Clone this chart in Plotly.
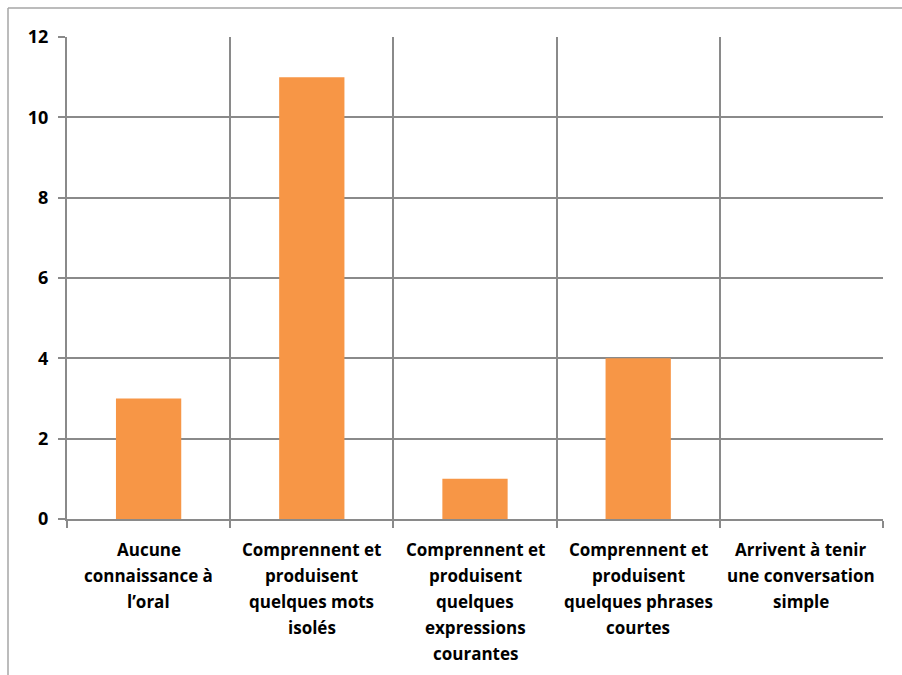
import plotly.graph_objects as go

categories = [
    ["Aucune", "connaissance à", "l’oral"],
    ["Comprennent et", "produisent", "quelques mots", "isolés"],
    ["Comprennent et", "produisent", "quelques", "expressions", "courantes"],
    ["Comprennent et", "produisent", "quelques phrases", "courtes"],
    ["Arrivent à tenir", "une conversation", "simple"],
]
values = [3, 11, 1, 4, 0]
y_ticks = [0, 2, 4, 6, 8, 10, 12]

W, H = 902, 675
ML, MR, MT, MB = 67, 19, 37, 156
grid = "#8a8a8a"
family = "'Open Sans', Lato, sans-serif"
bold = dict(family=family, size=17, color="black", weight="bold")
tick_bold = dict(family=family, size=18, color="black", weight="bold")

positions = list(range(len(categories)))
bounds = [p - 0.5 for p in positions] + [positions[-1] + 0.5]

fig = go.Figure(go.Bar(
    x=positions, y=values, width=0.4,
    marker=dict(color="#F79646", line=dict(width=0)),
))

fig.update_xaxes(
    range=[-0.5, len(categories) - 0.5],
    tickvals=positions, showticklabels=False,
    showgrid=False, ticks="", showline=True, linecolor=grid, linewidth=2,
    minor=dict(tickvals=bounds, showgrid=True, gridcolor=grid, gridwidth=2,
               ticks="outside", ticklen=7, tickcolor=grid, tickwidth=2),
    zeroline=False, fixedrange=True,
)
fig.update_yaxes(
    range=[0, 12], tickvals=y_ticks, showgrid=True, gridcolor=grid, gridwidth=2,
    ticks="outside", ticklen=7, tickcolor=grid, tickwidth=2,
    showline=True, linecolor=grid, linewidth=2, zeroline=False,
    tickfont=tick_bold, ticklabelstandoff=6,
)

# category labels, one line per annotation for Excel-like line spacing
for pos, lines in zip(positions, categories):
    for i, line in enumerate(lines):
        fig.add_annotation(
            x=pos, y=0, xref="x", yref="y", text=line, showarrow=False,
            xanchor="center", yanchor="middle", yshift=-(30 + 26 * i),
            font=bold,
        )

pw = W - ML - MR
ph = H - MT - MB
# chart-area border (top and left edges visible)
x0 = (8 - ML) / pw
y0 = (H - MB - 8) / ph
fig.add_shape(type="line", xref="paper", yref="paper",
              x0=x0, x1=(W + 5 - ML) / pw, y0=y0, y1=y0,
              line=dict(color="#a6a6a6", width=1.5))
fig.add_shape(type="line", xref="paper", yref="paper",
              x0=x0, x1=x0, y0=y0, y1=(H - MB - H - 5) / ph,
              line=dict(color="#a6a6a6", width=1.5))

fig.update_layout(
    width=W, height=H, margin=dict(l=ML, r=MR, t=MT, b=MB),
    paper_bgcolor="white", plot_bgcolor="white",
    showlegend=False, font=bold,
)
fig.write_html("out.html")
